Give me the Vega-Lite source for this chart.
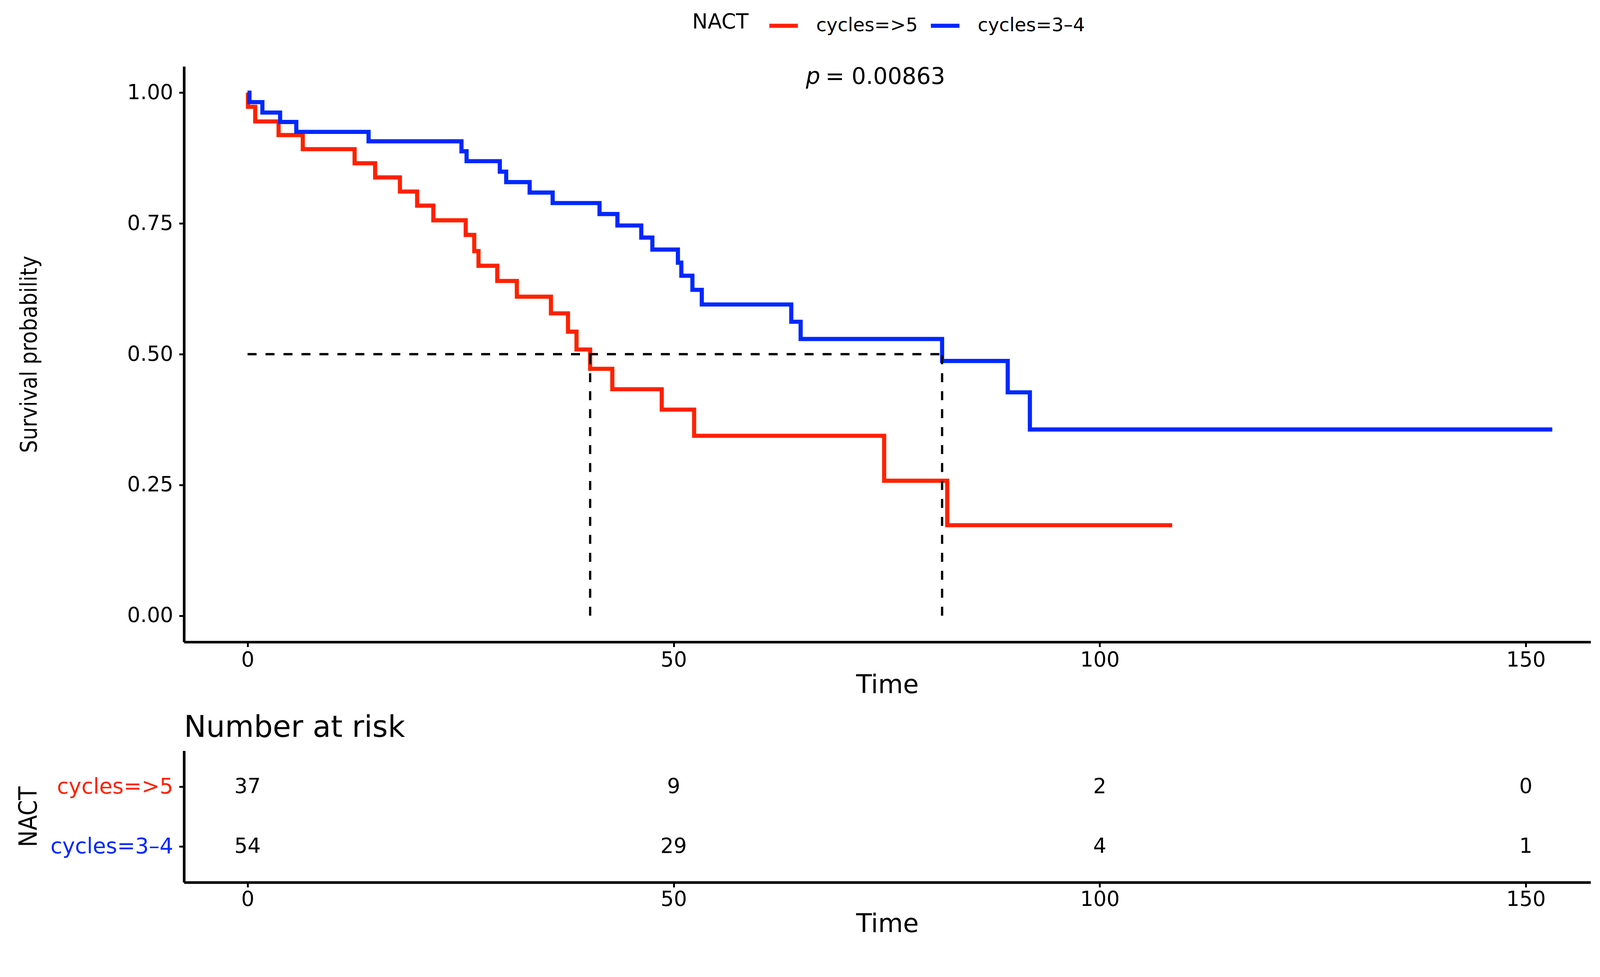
{
  "$schema": "https://vega.github.io/schema/vega-lite/v6.json",
  "padding": {"left": 42, "top": 24, "right": 5, "bottom": 4},
  "background": "white",
  "config": {
    "view": {"stroke": null},
    "font": "DejaVu Sans",
    "axis": {
      "grid": false,
      "domainColor": "black",
      "domainWidth": 6.7,
      "tickColor": "black",
      "tickWidth": 4.8,
      "tickSize": 12.5,
      "labelColor": "black",
      "titleColor": "black",
      "titleFontWeight": "normal",
      "labelFont": "DejaVu Sans",
      "titleFont": "DejaVu Sans",
      "labelLimit": 1000
    },
    "title": {"font": "DejaVu Sans", "fontWeight": "normal", "color": "black"}
  },
  "datasets": {
    "km": [
      {"t": 0, "s": 1.0, "g": "cycles=>5"},
      {"t": 0.05, "s": 0.973, "g": "cycles=>5"},
      {"t": 0.9, "s": 0.945, "g": "cycles=>5"},
      {"t": 3.64, "s": 0.919, "g": "cycles=>5"},
      {"t": 6.48, "s": 0.892, "g": "cycles=>5"},
      {"t": 12.56, "s": 0.865, "g": "cycles=>5"},
      {"t": 14.97, "s": 0.838, "g": "cycles=>5"},
      {"t": 17.88, "s": 0.811, "g": "cycles=>5"},
      {"t": 19.9, "s": 0.784, "g": "cycles=>5"},
      {"t": 21.8, "s": 0.756, "g": "cycles=>5"},
      {"t": 25.6, "s": 0.728, "g": "cycles=>5"},
      {"t": 26.6, "s": 0.697, "g": "cycles=>5"},
      {"t": 27.1, "s": 0.669, "g": "cycles=>5"},
      {"t": 29.3, "s": 0.64, "g": "cycles=>5"},
      {"t": 31.6, "s": 0.61, "g": "cycles=>5"},
      {"t": 35.6, "s": 0.578, "g": "cycles=>5"},
      {"t": 37.6, "s": 0.543, "g": "cycles=>5"},
      {"t": 38.6, "s": 0.509, "g": "cycles=>5"},
      {"t": 40.2, "s": 0.472, "g": "cycles=>5"},
      {"t": 42.8, "s": 0.433, "g": "cycles=>5"},
      {"t": 48.6, "s": 0.394, "g": "cycles=>5"},
      {"t": 52.4, "s": 0.344, "g": "cycles=>5"},
      {"t": 74.7, "s": 0.258, "g": "cycles=>5"},
      {"t": 82.1, "s": 0.173, "g": "cycles=>5"},
      {"t": 108.5, "s": 0.173, "g": "cycles=>5"},
      {"t": 0, "s": 1.0, "g": "cycles=3–4"},
      {"t": 0.22, "s": 0.982, "g": "cycles=3–4"},
      {"t": 1.74, "s": 0.962, "g": "cycles=3–4"},
      {"t": 3.82, "s": 0.944, "g": "cycles=3–4"},
      {"t": 5.72, "s": 0.925, "g": "cycles=3–4"},
      {"t": 14.2, "s": 0.907, "g": "cycles=3–4"},
      {"t": 25.1, "s": 0.888, "g": "cycles=3–4"},
      {"t": 25.7, "s": 0.869, "g": "cycles=3–4"},
      {"t": 29.6, "s": 0.849, "g": "cycles=3–4"},
      {"t": 30.35, "s": 0.829, "g": "cycles=3–4"},
      {"t": 33.1, "s": 0.809, "g": "cycles=3–4"},
      {"t": 35.8, "s": 0.789, "g": "cycles=3–4"},
      {"t": 41.3, "s": 0.768, "g": "cycles=3–4"},
      {"t": 43.4, "s": 0.746, "g": "cycles=3–4"},
      {"t": 46.2, "s": 0.723, "g": "cycles=3–4"},
      {"t": 47.5, "s": 0.7, "g": "cycles=3–4"},
      {"t": 50.5, "s": 0.675, "g": "cycles=3–4"},
      {"t": 50.9, "s": 0.65, "g": "cycles=3–4"},
      {"t": 52.2, "s": 0.623, "g": "cycles=3–4"},
      {"t": 53.3, "s": 0.595, "g": "cycles=3–4"},
      {"t": 63.8, "s": 0.562, "g": "cycles=3–4"},
      {"t": 64.9, "s": 0.529, "g": "cycles=3–4"},
      {"t": 81.5, "s": 0.487, "g": "cycles=3–4"},
      {"t": 89.2, "s": 0.427, "g": "cycles=3–4"},
      {"t": 91.8, "s": 0.356, "g": "cycles=3–4"},
      {"t": 153.1, "s": 0.356, "g": "cycles=3–4"}
    ],
    "median": [
      {"x": 0, "x2": 81.5, "y": 0.5, "y2": 0.5},
      {"x": 40.2, "x2": 40.2, "y": 0, "y2": 0.5},
      {"x": 81.5, "x2": 81.5, "y": 0, "y2": 0.5}
    ],
    "risk": [
      {"t": 0, "g": "cycles=>5", "n": 37},
      {"t": 50, "g": "cycles=>5", "n": 9},
      {"t": 100, "g": "cycles=>5", "n": 2},
      {"t": 150, "g": "cycles=>5", "n": 0},
      {"t": 0, "g": "cycles=3–4", "n": 54},
      {"t": 50, "g": "cycles=3–4", "n": 29},
      {"t": 100, "g": "cycles=3–4", "n": 4},
      {"t": 150, "g": "cycles=3–4", "n": 1}
    ]
  },
  "resolve": {"scale": {"color": "independent"}, "legend": {"color": "independent"}},
  "spacing": 37.6,
  "vconcat": [
    {
      "width": 3601,
      "height": 1474,
      "layer": [
        {
          "data": {"name": "km"},
          "mark": {"type": "line", "interpolate": "step-after", "strokeWidth": 10.6},
          "encoding": {
            "x": {"field": "t", "type": "quantitative",
              "scale": {"domain": [-7.46, 157.6], "nice": false, "zero": false},
              "axis": {"values": [0, 50, 100, 150], "title": "Time", "labelFontSize": 53, "titleFontSize": 65.5, "labelPadding": 7.7, "titlePadding": 4.8}},
            "y": {"field": "s", "type": "quantitative",
              "scale": {"domain": [-0.0503, 1.0503], "nice": false, "zero": false},
              "axis": {"values": [0, 0.25, 0.5, 0.75, 1], "format": ".2f", "title": "Survival probability", "labelFontSize": 53, "labelPadding": 15.4, "titleFont": "DejaVu Sans Condensed, Liberation Sans, sans-serif", "titleFontSize": 58, "titleX": -377.5, "titleBaseline": "alphabetic"}},
            "color": {"field": "g", "type": "nominal",
              "scale": {"domain": ["cycles=>5", "cycles=3–4"], "range": ["#FF2200", "#0028FF"]},
              "legend": {"title": "NACT", "orient": "none", "legendX": 1301, "legendY": -146, "direction": "horizontal", "titleOrient": "left", "symbolType": "stroke", "symbolSize": 5358, "symbolStrokeWidth": 10.6, "labelFontSize": 48, "titleFontSize": 53, "titleFontWeight": "normal", "labelOffset": 41.4, "columnPadding": 11.6, "titlePadding": 47, "padding": 0, "labelColor": "black", "titleColor": "black", "labelLimit": 1000}}
          }
        },
        {
          "data": {"name": "median"},
          "mark": {"type": "rule", "strokeDash": [23, 23], "strokeWidth": 5.8, "color": "black"},
          "encoding": {
            "x": {"field": "x", "type": "quantitative"},
            "x2": {"field": "x2"},
            "y": {"field": "y", "type": "quantitative"},
            "y2": {"field": "y2"}
          }
        },
        {
          "data": {"values": [{"t": 67.2, "s": 1.0295, "lab": "p"}]},
          "mark": {"type": "text", "fontSize": 58, "fontStyle": "italic", "align": "right", "baseline": "middle", "color": "black"},
          "encoding": {
            "x": {"field": "t", "type": "quantitative"},
            "y": {"field": "s", "type": "quantitative"},
            "text": {"field": "lab"}
          }
        },
        {
          "data": {"values": [{"t": 67.8, "s": 1.0295, "lab": "= 0.00863"}]},
          "mark": {"type": "text", "fontSize": 58, "align": "left", "baseline": "middle", "color": "black"},
          "encoding": {
            "x": {"field": "t", "type": "quantitative"},
            "y": {"field": "s", "type": "quantitative"},
            "text": {"field": "lab"}
          }
        }
      ]
    },
    {
      "width": 3601,
      "height": 337,
      "title": {"text": "Number at risk", "anchor": "start", "frame": "group", "fontSize": 76, "offset": 19.3},
      "data": {"name": "risk"},
      "mark": {"type": "text", "fontSize": 53, "color": "black"},
      "encoding": {
        "x": {"field": "t", "type": "quantitative",
          "scale": {"domain": [-7.46, 157.6], "nice": false, "zero": false},
          "axis": {"values": [0, 50, 100, 150], "title": "Time", "labelFontSize": 53, "titleFontSize": 65.5, "labelPadding": 5.8, "titlePadding": 3.9}},
        "y": {"field": "g", "type": "nominal", "sort": ["cycles=>5", "cycles=3–4"],
          "scale": {"type": "point", "padding": 0.6},
          "axis": {"title": "NACT", "labelFontSize": 55, "labelPadding": 15.4, "titleFont": "DejaVu Sans Condensed, Liberation Sans, sans-serif", "titleFontSize": 63.5, "titleX": -377.5, "titleBaseline": "alphabetic",
            "labelColor": {"condition": {"test": "datum.value === 'cycles=>5'", "value": "#FF2200"}, "value": "#0028FF"}}},
        "text": {"field": "n", "type": "quantitative"}
      }
    }
  ]
}
